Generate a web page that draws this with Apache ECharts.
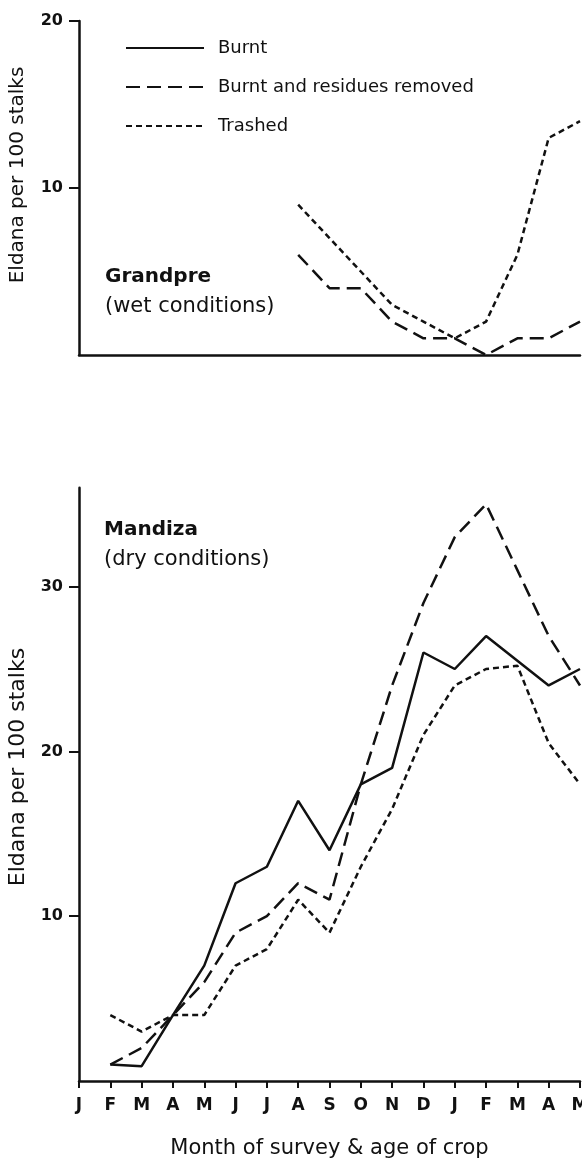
<!DOCTYPE html>
<html>
<head>
<meta charset="utf-8">
<script src="https://cdn.jsdelivr.net/npm/echarts@6/dist/echarts.min.js"></script>
<style>
html,body{margin:0;padding:0;background:#fff;}
#c{width:582px;height:1160px;}
</style>
</head>
<body>
<div id="c"></div>
<script>
// ---- data ----
const months = ['J','F','M','A','M','J','J','A','S','O','N','D','J','F','M','A','M'];
const seriesNames = ['Burnt', 'Burnt and residues removed', 'Trashed'];
// Grandpre (wet conditions)
const grandpreRemoved = [null,null,null,null,null,null,null,6,4,4,2,1,1,0,1,1,2];
const grandpreTrashed = [null,null,null,null,null,null,null,9,7,5,3,2,1,2,6,13,14];
// Mandiza (dry conditions)
const mandizaBurnt   = [null,1,0.9,4,7,12,13,17,14,18,19,26,25,27,25.5,24,25];
const mandizaRemoved = [null,1,2,4,6,9,10,12,11,18,24,29,33,35,31,27,24];
const mandizaTrashed = [null,4,3,4,4,7,8,11,9,13,16.5,21,24,25,25.2,20.5,18];
const topTicks = [10, 20];
const bottomTicks = [10, 20, 30];

const FONT = 'DejaVu Sans';
const INK = '#111';
const styles = {
  'Burnt': {type: 'solid', width: 2.5},
  'Burnt and residues removed': {type: [14, 7], width: 2.5},
  'Trashed': {type: [6, 4], width: 2.5}
};

function lineSeries(name, data, idx) {
  return {
    name: name, type: 'line', data: data,
    xAxisIndex: idx, yAxisIndex: idx,
    symbol: 'none', connectNulls: false, animation: false,
    lineStyle: Object.assign({color: INK}, styles[name]),
    itemStyle: {color: INK}
  };
}

const chart = echarts.init(document.getElementById('c'), null, {renderer: 'canvas'});
const axisLine = {show: true, lineStyle: {color: INK, width: 2.5}};
chart.setOption({
  animation: false,
  backgroundColor: '#fff',
  grid: [
    {left: 79, top: 21, width: 501, height: 334, containLabel: false, outerBoundsMode: 'none'},
    {left: 79, top: 487.7, width: 501, height: 593.3, containLabel: false, outerBoundsMode: 'none'}
  ],
  legend: {
    data: seriesNames,
    orient: 'vertical', left: 125, top: 39, padding: 0,
    itemWidth: 78, itemHeight: 14, itemGap: 21,
    selectedMode: false,
    itemStyle: {color: 'rgba(0,0,0,0)', borderWidth: 0, opacity: 0},
    textStyle: {fontFamily: FONT, fontSize: 18, color: INK, padding: [0, 0, 0, 9]}
  },
  xAxis: [
    {type: 'category', gridIndex: 0, data: months, boundaryGap: false,
     axisLine: axisLine, axisTick: {show: false}, axisLabel: {show: false}, splitLine: {show: false}},
    {type: 'category', gridIndex: 1, data: months, boundaryGap: false,
     axisLine: axisLine,
     axisTick: {show: true, length: 7, inside: false, alignWithLabel: true, lineStyle: {color: INK, width: 2}},
     axisLabel: {show: true, interval: 0, margin: 16, fontFamily: FONT, fontSize: 17, fontWeight: 'bold', color: INK},
     splitLine: {show: false},
     name: 'Month of survey & age of crop', nameLocation: 'middle', nameGap: 57,
     nameTextStyle: {fontFamily: FONT, fontSize: 21, color: INK}}
  ],
  yAxis: [
    {type: 'value', gridIndex: 0, min: 0, max: 20, interval: 10,
     axisLine: axisLine,
     axisTick: {show: true, length: 10, customValues: topTicks, lineStyle: {color: INK, width: 2}},
     axisLabel: {show: true, customValues: topTicks, margin: 16, fontFamily: FONT, fontSize: 16, fontWeight: 'bold', color: INK},
     splitLine: {show: false}},
    {type: 'value', gridIndex: 1, min: 0, max: 36, interval: 10,
     axisLine: axisLine,
     axisTick: {show: true, length: 10, customValues: bottomTicks, lineStyle: {color: INK, width: 2}},
     axisLabel: {show: true, customValues: bottomTicks, margin: 16, fontFamily: FONT, fontSize: 16, fontWeight: 'bold', color: INK},
     splitLine: {show: false}}
  ],
  graphic: [
    {type: 'text', x: 18, y: 175, rotation: Math.PI / 2,
     style: {text: 'Eldana per 100 stalks', font: '20px "DejaVu Sans"', fill: INK, align: 'center', verticalAlign: 'middle'}},
    {type: 'text', x: 18, y: 767, rotation: Math.PI / 2,
     style: {text: 'Eldana per 100 stalks', font: '22px "DejaVu Sans"', fill: INK, align: 'center', verticalAlign: 'middle'}},
    {type: 'text', x: 105, y: 277,
     style: {text: 'Grandpre', font: 'bold 20px "DejaVu Sans"', fill: INK, align: 'left', verticalAlign: 'middle'}},
    {type: 'text', x: 105, y: 307,
     style: {text: '(wet conditions)', font: '21px "DejaVu Sans"', fill: INK, align: 'left', verticalAlign: 'middle'}},
    {type: 'text', x: 104, y: 530,
     style: {text: 'Mandiza', font: 'bold 20px "DejaVu Sans"', fill: INK, align: 'left', verticalAlign: 'middle'}},
    {type: 'text', x: 104, y: 560,
     style: {text: '(dry conditions)', font: '21px "DejaVu Sans"', fill: INK, align: 'left', verticalAlign: 'middle'}}
  ],
  series: [
    lineSeries('Burnt and residues removed', grandpreRemoved, 0),
    lineSeries('Trashed', grandpreTrashed, 0),
    lineSeries('Burnt', mandizaBurnt, 1),
    lineSeries('Burnt and residues removed', mandizaRemoved, 1),
    lineSeries('Trashed', mandizaTrashed, 1)
  ]
});
</script>
</body>
</html>
